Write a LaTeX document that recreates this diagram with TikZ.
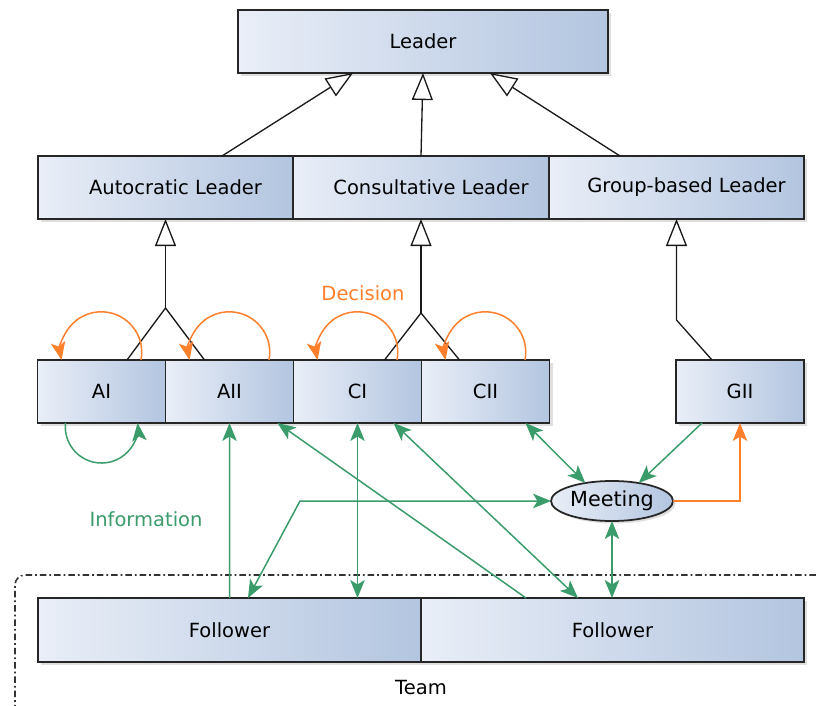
\documentclass[tikz,border=0pt]{standalone}
\usepackage{fontspec}
\setmainfont{DejaVu Sans}
\usetikzlibrary{arrows.meta,positioning,calc,shapes.geometric,shadows}

\begin{document}
\begin{tikzpicture}[
  font=\fontsize{11.1}{13}\selectfont,
  classbox/.style={draw=black!85, left color=BoxLight, right color=BoxDark, line width=1pt,
    minimum width=#1, minimum height=12.6mm, inner sep=0pt, outer sep=0pt,
    drop shadow={shadow xshift=0.6mm, shadow yshift=-0.6mm, opacity=0.25}},
  classbox/.default=2.56cm,
  meetnode/.style={ellipse, draw=black!85, left color=BoxLight, right color=BoxDark, line width=1pt,
    minimum width=2.44cm, minimum height=8mm, inner sep=0pt, outer sep=0pt,
    font=\fontsize{11.8}{13}\selectfont,
    drop shadow={shadow xshift=0.5mm, shadow yshift=-0.5mm, opacity=0.25}},
  line/.style={line width=0.75pt, draw=black!90},
  inherit/.style={line, -{Triangle[open, fill=white, length=5.4mm, width=4.2mm]}},
  info/.style={-{Stealth[length=3.6mm, width=2.9mm, inset=0.9mm]}, line width=0.85pt, draw=InfoGreen},
  infoboth/.style={info, {Stealth[length=3.6mm, width=2.9mm, inset=0.9mm]}-{Stealth[length=3.6mm, width=2.9mm, inset=0.9mm]}},
  decide/.style={-{Stealth[length=3.6mm, width=2.9mm, inset=0.9mm]}, line width=0.85pt, draw=DecOrange},
  team/.style={draw=black!80, line width=0.9pt, dash pattern=on 1.3mm off 0.6mm on 0.35mm off 0.6mm}
]
\definecolor{BoxLight}{HTML}{E9EEF7}
\definecolor{BoxDark}{HTML}{B3C5E0}
\definecolor{InfoGreen}{HTML}{3A9B6B}
\definecolor{DecOrange}{HTML}{FF7F2A}

\useasboundingbox (0,0) rectangle (16.34,-14.12);

% team frame
\draw[team, rounded corners=2mm] (16.6,-11.5) -- (0.3,-11.5) -- (0.3,-14.4);
\node (teamlabel) at (8.42,-13.76) {Team};

% leaders
\node[classbox=7.4cm] (leader) at (8.46,-0.83) {Leader};
\node[classbox=5.11cm] (auto) at (3.31,-3.75) {\hspace*{4mm}Autocratic Leader};
\node[classbox=5.11cm, right=0pt of auto] (cons) {\hspace*{4mm}Consultative Leader};
\node[classbox=5.11cm, right=0pt of cons] (group) {\hspace*{4mm}Group-based Leader};

\draw[inherit] ([xshift=11.3mm]auto.north) -- ([xshift=-14mm]leader.south);
\draw[inherit] (cons.north) -- (leader.south);
\draw[inherit] ([xshift=-11.3mm]group.north) -- ([xshift=13.4mm]leader.south);

% styles
\node[classbox] (ai) at (2.03,-7.83) {AI};
\node[classbox, right=0pt of ai] (aii) {AII};
\node[classbox, right=0pt of aii] (ci) {CI};
\node[classbox, right=0pt of ci] (cii) {CII};
\node[classbox] (gii) at (14.80,-7.83) {GII};

\coordinate (ajoin) at ($(auto.south)+(0,-1.78)$);
\draw[line] ([xshift=5.1mm]ai.north) -- (ajoin) -- ([xshift=-5mm]aii.north);
\draw[inherit] (ajoin) -- (auto.south);
\coordinate (cjoin) at ($(cons.south)+(0,-1.88)$);
\draw[line] ([xshift=5.4mm]ci.north) -- (cjoin) -- ([xshift=-5.2mm]cii.north);
\draw[inherit] (cjoin) -- (cons.south);
\coordinate (gbend) at ($(group.south)+(0,-2.02)$);
\draw[inherit] ([xshift=-5.6mm]gii.north) -- (gbend) -- (group.south);

% decision loops
\node[text=DecOrange] (decision) at (7.26,-5.86) {Decision};
\draw[decide] ([xshift=7.9mm]ai.north) arc[start angle=-11, end angle=191, radius=8.1mm];
\draw[decide] ([xshift=7.9mm]aii.north) arc[start angle=-11, end angle=191, radius=8.1mm];
\draw[decide] ([xshift=7.9mm]ci.north) arc[start angle=-11, end angle=191, radius=8.1mm];
\draw[decide] ([xshift=7.9mm]cii.north) arc[start angle=-11, end angle=191, radius=8.1mm];

% meeting and followers
\node[meetnode] (meet) at (12.24,-10.02) {Meeting};
\node[classbox=7.66cm, minimum height=12.8mm] (f1) at (4.59,-12.6) {Follower};
\node[classbox=7.66cm, minimum height=12.8mm, right=0pt of f1] (f2) {Follower};

% information
\node[text=InfoGreen] (information) at (2.92,-10.38) {Information};
\draw[info] ([xshift=-7.2mm]ai.south) arc[start angle=174, end angle=366, radius=7.25mm];
\draw[info] (f1.north) -- (aii.south);
\draw[info] ([xshift=-17.3mm]f2.north) -- ([xshift=9.6mm]aii.south);
\draw[infoboth] (ci.south) -- (ci.south |- f1.north);
\draw[infoboth] ([xshift=7.2mm]ci.south) -- ([xshift=-6.9mm]f2.north);
\draw[infoboth] ([xshift=8mm]cii.south) -- (meet.146);
\draw[info] ([xshift=-7.6mm]gii.south) -- (meet.34);
\draw[infoboth] (meet.south) -- (meet.south |- f2.north);
\coordinate (ibend) at ($(meet.west)+(-5.02,0)$);
\draw[infoboth] ([xshift=3.7mm]f1.north) -- (ibend) -- (meet.west);
\draw[decide] (meet.east) -| (gii.south);
\end{tikzpicture}
\end{document}
